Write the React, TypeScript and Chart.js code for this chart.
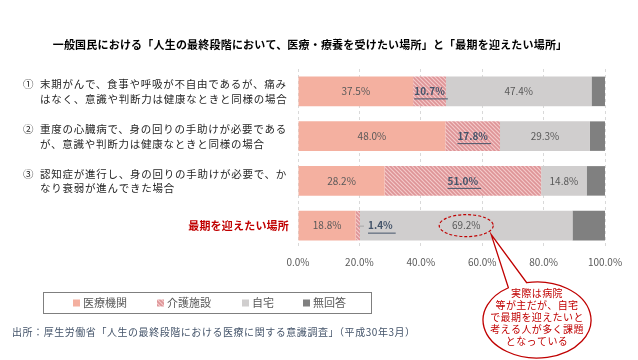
import React, { useEffect, useRef } from 'react';
import { Chart, registerables } from 'chart.js';

Chart.register(...registerables);

const TITLE = '一般国民における「人生の最終段階において、医療・療養を受けたい場所」と「最期を迎えたい場所」';
const categories = ['①', '②', '③', '最期を迎えたい場所'];
const rowLabels = [
  ['①', '末期がんで、食事や呼吸が不自由であるが、痛み', 'はなく、意識や判断力は健康なときと同様の場合'],
  ['②', '重度の心臓病で、身の回りの手助けが必要である', 'が、意識や判断力は健康なときと同様の場合'],
  ['③', '認知症が進行し、身の回りの手助けが必要で、か', 'なり衰弱が進んできた場合'],
];
const lastRowLabel = '最期を迎えたい場所';
const seriesNames = ['医療機関', '介護施設', '自宅', '無回答'];
const hospital = [37.5, 48.0, 28.2, 18.8];
const care = [10.7, 17.8, 51.0, 1.4];
const home = [47.4, 29.3, 14.8, 69.2];
const noAnswer = [4.4, 4.9, 6.0, 10.6];
const xTicks = [0, 20, 40, 60, 80, 100];
const sourceText = '出所：厚生労働省「人生の最終段階における医療に関する意識調査」（平成30年3月）';
const bubbleLines = ['実際は病院', '等が主だが、自宅', 'で最期を迎えたいと', '考える人が多く課題', 'となっている'];

const FONT = '"Noto Sans CJK JP", "Noto Sans", sans-serif';
const C_HOSP = '#F4B0A0';
const C_HOME = '#D0CECE';
const C_NA = '#808080';
const RED = '#C00000';

function makeHatch(): CanvasPattern | string {
  const c = document.createElement('canvas');
  c.width = 4;
  c.height = 4;
  const g = c.getContext('2d');
  if (!g) return '#EBB0B0';
  g.fillStyle = '#F3CACA';
  g.fillRect(0, 0, 4, 4);
  g.strokeStyle = '#DE9497';
  g.lineWidth = 1.6;
  g.beginPath();
  g.moveTo(-1, -1); g.lineTo(5, 5);
  g.moveTo(-1, 3); g.lineTo(1, 5);
  g.moveTo(3, -1); g.lineTo(5, 1);
  g.stroke();
  return g.createPattern(c, 'repeat') || '#EBB0B0';
}

function setLS(ctx: any, v: string) {
  try { ctx.letterSpacing = v; } catch (e) { /* ignore */ }
}

export default function App() {
  const ref = useRef<HTMLCanvasElement | null>(null);

  useEffect(() => {
    const canvas = ref.current;
    if (!canvas) return;
    const hatch = makeHatch();

    const labelsPlugin = {
      id: 'segLabels',
      afterDatasetsDraw(chart: any) {
        const ctx = chart.ctx;
        ctx.save();
        ctx.textBaseline = 'middle';
        for (let d = 0; d < 3; d++) {
          const meta = chart.getDatasetMeta(d);
          meta.data.forEach((bar: any, i: number) => {
            const v = chart.data.datasets[d].data[i];
            const txt = v.toFixed(1) + '%';
            const y = bar.y;
            if (d === 1) {
              ctx.font = `bold 10px ${FONT}`;
              ctx.fillStyle = '#44546A';
              let left: number;
              const w = ctx.measureText(txt).width;
              if (i === 3) {
                ctx.strokeStyle = '#A6A6A6';
                ctx.lineWidth = 1;
                ctx.beginPath();
                ctx.moveTo(bar.x - 2, y + 0.5);
                ctx.lineTo(bar.x + 4, y + 0.5);
                ctx.stroke();
                left = bar.x + 8;
              } else {
                left = (bar.x + bar.base) / 2 - w / 2;
              }
              ctx.textAlign = 'left';
              ctx.fillText(txt, left, y);
              ctx.strokeStyle = '#44546A';
              ctx.lineWidth = 1;
              ctx.beginPath();
              ctx.moveTo(left, y + 7.5);
              ctx.lineTo(left + w + 3, y + 7.5);
              ctx.stroke();
            } else {
              ctx.font = `10px ${FONT}`;
              ctx.fillStyle = '#595959';
              ctx.textAlign = 'center';
              ctx.fillText(txt, (bar.x + bar.base) / 2, y);
            }
          });
        }
        ctx.restore();
      },
    };

    const decoPlugin = {
      id: 'deco',
      afterDraw(chart: any) {
        const ctx = chart.ctx;
        const yScale = chart.scales.y;
        ctx.save();
        // title
        ctx.font = `bold 11px ${FONT}`;
        ctx.fillStyle = '#000000';
        ctx.textAlign = 'center';
        ctx.textBaseline = 'middle';
        setLS(ctx, '0.2px');
        ctx.fillText(TITLE, 310, 45);
        setLS(ctx, '0px');

        // row labels
        ctx.font = `10.5px ${FONT}`;
        ctx.fillStyle = '#262626';
        ctx.textAlign = 'left';
        rowLabels.forEach((r, i) => {
          const yc = yScale.getPixelForValue(i);
          setLS(ctx, '0px');
          ctx.fillText(r[0], 23, yc - 7);
          setLS(ctx, '0.75px');
          ctx.fillText(r[1], 40, yc - 7);
          ctx.fillText(r[2], 40, yc + 7.5);
        });
        setLS(ctx, '0.2px');
        ctx.font = `bold 11px ${FONT}`;
        ctx.fillStyle = RED;
        ctx.textAlign = 'right';
        ctx.fillText(lastRowLabel, 289, yScale.getPixelForValue(3));
        setLS(ctx, '0px');

        // legend
        ctx.strokeStyle = '#7F7F7F';
        ctx.lineWidth = 1;
        ctx.strokeRect(43.5, 292.5, 328, 21);
        const lx = [73, 157, 242, 303];
        const fills: any[] = [C_HOSP, hatch, C_HOME, C_NA];
        ctx.font = `11px ${FONT}`;
        ctx.textAlign = 'left';
        seriesNames.forEach((n, i) => {
          ctx.fillStyle = fills[i];
          ctx.fillRect(lx[i], 299.5, 7, 7);
          ctx.fillStyle = '#595959';
          ctx.fillText(n, lx[i] + 10, 303);
        });

        // source
        ctx.font = `10px ${FONT}`;
        ctx.fillStyle = '#44546A';
        setLS(ctx, '0.55px');
        ctx.fillText(sourceText, 12, 332);
        setLS(ctx, '0px');

        // dashed ellipse around 69.2%
        const bar = chart.getDatasetMeta(2).data[3];
        const ex = (bar.x + bar.base) / 2;
        const ey = bar.y;
        ctx.strokeStyle = RED;
        ctx.lineWidth = 1.2;
        ctx.setLineDash([3, 2]);
        ctx.beginPath();
        ctx.ellipse(ex, ey, 27, 11, 0, 0, Math.PI * 2);
        ctx.stroke();
        ctx.setLineDash([]);

        // speech bubble
        const cx = 537, cy = 320, rx = 54, ry = 38;
        const a1 = (-122 * Math.PI) / 180;
        const a2 = (-101 * Math.PI) / 180;
        const tipX = ex + 25, tipY = ey + 9;
        ctx.beginPath();
        ctx.moveTo(cx + rx * Math.cos(a1), cy + ry * Math.sin(a1));
        ctx.lineTo(tipX, tipY);
        ctx.lineTo(cx + rx * Math.cos(a2), cy + ry * Math.sin(a2));
        ctx.ellipse(cx, cy, rx, ry, 0, a2, a1 + Math.PI * 2, false);
        ctx.closePath();
        ctx.fillStyle = '#FFFFFF';
        ctx.fill();
        ctx.strokeStyle = RED;
        ctx.lineWidth = 1.3;
        ctx.stroke();

        ctx.fillStyle = RED;
        ctx.font = `10px ${FONT}`;
        ctx.textAlign = 'center';
        setLS(ctx, '0.4px');
        bubbleLines.forEach((l, i) => {
          ctx.fillText(l, cx, 293 + i * 12);
        });
        setLS(ctx, '0px');
        ctx.restore();
      },
    };

    const chart = new Chart(canvas, {
      type: 'bar',
      data: {
        labels: categories,
        datasets: [
          { label: seriesNames[0], data: hospital, backgroundColor: C_HOSP },
          { label: seriesNames[1], data: care, backgroundColor: hatch as any },
          { label: seriesNames[2], data: home, backgroundColor: C_HOME },
          { label: seriesNames[3], data: noAnswer, backgroundColor: C_NA },
        ],
      },
      options: {
        indexAxis: 'y',
        responsive: false,
        maintainAspectRatio: false,
        animation: false,
        events: [],
        layout: { padding: { left: 298, right: 33, top: 69, bottom: 84 } },
        datasets: { bar: { barPercentage: 0.66, categoryPercentage: 1, borderWidth: 0 } },
        plugins: {
          legend: { display: false },
          title: { display: false },
          tooltip: { enabled: false },
        },
        scales: {
          x: {
            stacked: true,
            min: 0,
            max: 100,
            afterBuildTicks: (axis: any) => {
              axis.ticks = xTicks.map((v) => ({ value: v }));
            },
            ticks: {
              padding: 8,
              color: '#595959',
              font: { size: 10, family: FONT },
              callback: (v: any) => Number(v).toFixed(1) + '%',
            },
            grid: { color: '#D9D9D9', drawTicks: false },
            border: { display: false, dash: [3, 3] },
          },
          y: {
            stacked: true,
            display: false,
          },
        },
      },
      plugins: [labelsPlugin, decoPlugin],
    } as any);

    return () => chart.destroy();
  }, []);

  return (
    <div style={{ position: 'fixed', left: 0, top: 0, width: 638, height: 360, background: '#fff' }}>
      <canvas ref={ref} width={638} height={360} style={{ display: 'block' }} />
    </div>
  );
}
